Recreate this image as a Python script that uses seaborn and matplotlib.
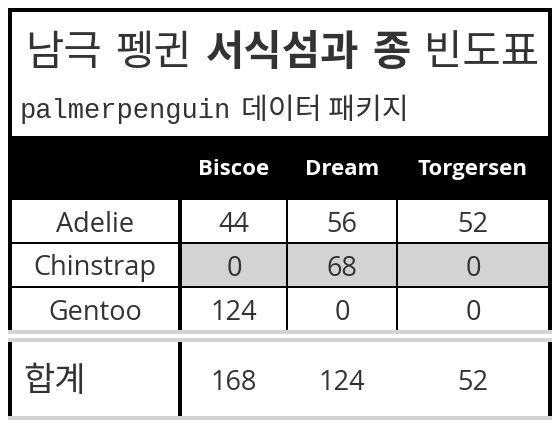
import numpy as np
import pandas as pd
import matplotlib
matplotlib.use("Agg")
import matplotlib.pyplot as plt
import seaborn as sns
from matplotlib.colors import ListedColormap
from matplotlib.patches import Rectangle

# ---------------- data ----------------
title_words = ["남극", "펭귄", "서식섬과", "종", "빈도표"]
title_bold = [False, False, True, True, False]
subtitle_code = "palmerpenguin"
subtitle_text = "데이터 패키지"
islands = ["Biscoe", "Dream", "Torgersen"]
species = ["Adelie", "Chinstrap", "Gentoo"]
adelie = [44, 56, 52]
chinstrap = [0, 68, 0]
gentoo = [124, 0, 0]
total_label = "합계"
highlight_species = "Chinstrap"

counts = pd.DataFrame([adelie, chinstrap, gentoo], index=species, columns=islands)
totals = counts.sum(axis=0)

# ---------------- style ----------------
sns.set_theme(style="white")
KR = ["Noto Sans CJK KR", "DejaVu Sans"]
LAT = ["Open Sans", "DejaVu Sans"]
MONO = ["Liberation Mono", "DejaVu Sans Mono"]
plt.rcParams["font.family"] = KR
TXT = "#333333"
GRAY = "#d3d3d3"

W, H = 560, 428
fig = plt.figure(figsize=(W / 100, H / 100), dpi=100, facecolor="white")
ax = fig.add_axes([0, 0, 1, 1])
ax.set_xlim(0, W)
ax.set_ylim(H, 0)
ax.set_axis_off()
ax.set_zorder(3)
ax.patch.set_visible(False)

def rect(x, y, w, h, c):
    ax.add_patch(Rectangle((x, y), w, h, facecolor=c, edgecolor="none", lw=0))

# layout (pixels)
body_top, body_bottom = 200, 330
label_span = (12, 178)
col_spans = [(182, 286), (288, 396), (398, 548)]
row_bases = [231.5, 275.5, 320]

# frame
rect(8, 8, 544, 4, "black")
rect(8, 8, 4, 322, "black")
rect(548, 8, 4, 322, "black")
rect(8, 136, 544, 64, "black")
# body grid
rect(178, body_top, 4, body_bottom - body_top, "black")
rect(286, body_top, 2, body_bottom - body_top, "black")
rect(396, body_top, 2, body_bottom - body_top, "black")
rect(12, 242, 536, 2, "black")
rect(12, 286, 536, 2, "black")
# double rule + summary row
rect(8, 330, 544, 4, GRAY)
rect(8, 338, 544, 4, GRAY)
rect(8, 416, 544, 4, GRAY)
rect(8, 342, 4, 74, "black")
rect(178, 342, 4, 74, "black")
rect(548, 342, 4, 74, "black")

# ---------------- body cells via seaborn heatmap ----------------
row_h = (body_bottom - body_top) / len(species)
for j, isl in enumerate(islands):
    x0, x1 = col_spans[j]
    hax = fig.add_axes([x0 / W, 1 - body_bottom / H, (x1 - x0) / W, (body_bottom - body_top) / H])
    hax.set_zorder(1)
    flag = pd.DataFrame({isl: (counts.index == highlight_species).astype(int)}, index=species)
    sns.heatmap(flag, ax=hax, cmap=ListedColormap(["white", GRAY]), vmin=0, vmax=1,
                cbar=False, annot=counts[[isl]].values, fmt="d",
                annot_kws=dict(fontsize=19.5, color=TXT, family=LAT),
                xticklabels=False, yticklabels=False, linewidths=0)
    hax.set_axis_off()
    for i, t in enumerate(hax.texts):
        t.set_va("baseline")
        t.set_y(i + (row_bases[i] - body_top - i * row_h) / row_h)

# row labels
lab_cx = (label_span[0] + label_span[1]) / 2
for i, sp in enumerate(species):
    ax.text(lab_cx, row_bases[i], sp, ha="center", va="baseline",
            fontsize=19.5, color=TXT, family=LAT)

# header
for j, isl in enumerate(islands):
    cx = (col_spans[j][0] + col_spans[j][1]) / 2
    ax.text(cx, 175, isl, ha="center", va="baseline", fontsize=16,
            fontweight="bold", color="white", family=LAT)

# summary row
ax.text(23, 391, total_label, ha="left", va="baseline", fontsize=24.5, color=TXT, family=KR)
for j, isl in enumerate(islands):
    cx = (col_spans[j][0] + col_spans[j][1]) / 2
    ax.text(cx, 390.5, str(totals[isl]), ha="center", va="baseline",
            fontsize=19.5, color=TXT, family=LAT)

# title (mixed weight)
fig.canvas.draw()
renderer = fig.canvas.get_renderer()
inv = ax.transData.inverted()
x = 25
for w, b in zip(title_words, title_bold):
    t = ax.text(x, 64.5, w, ha="left", va="baseline", fontsize=30, color=TXT,
                family=KR, fontweight="bold" if b else "normal")
    bb = t.get_window_extent(renderer)
    x = inv.transform((bb.x1, 0))[0] + 13.5

# subtitle
t = ax.text(20, 118, subtitle_code, ha="left", va="baseline", fontsize=19.5,
            color=TXT, family=MONO)
bb = t.get_window_extent(renderer)
x = inv.transform((bb.x1, 0))[0] + 10
ax.text(x, 119, subtitle_text, ha="left", va="baseline", fontsize=21, color=TXT, family=KR)

fig.savefig("out.png", dpi=100, facecolor="white")
